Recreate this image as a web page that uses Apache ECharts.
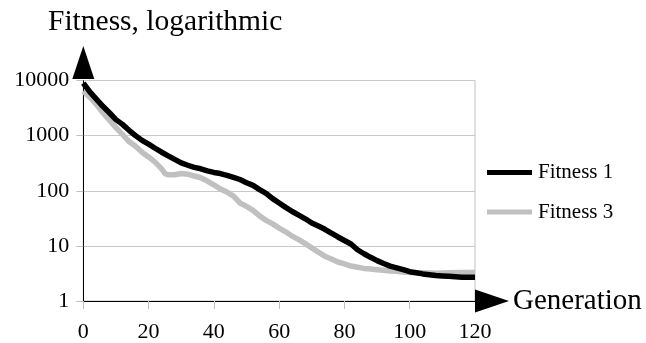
<!DOCTYPE html>
<html>
<head>
<meta charset="utf-8">
<script src="https://cdn.jsdelivr.net/npm/echarts@6/dist/echarts.min.js"></script>
<style>
html,body{margin:0;padding:0;background:#fff;}
#chart{width:646px;height:343px;}
</style>
</head>
<body>
<div id="chart"></div>
<script>
// Generations at which values were read
var gen1 = [0,2,4,6,8,10,12,14,16,18,20,22,24,26,28,30,32,34,36,38,40,42,44,46,48,50,52,54,56,58,60,62,64,66,68,70,72,74,76,78,80,82,84,86,88,90,92,94,96,98,100,102,104,106,108,110,112,114,116,118,120];
var fitness1 = [9000,6200,4600,3400,2600,1950,1600,1250,1000,820,700,590,500,430,370,320,290,265,250,230,215,205,190,175,160,140,125,105,90,72,60,50,42,36,31,26,23,20,17,14.5,12.5,10.8,8.5,7.2,6.2,5.4,4.8,4.3,4.0,3.7,3.4,3.25,3.1,3.0,2.9,2.85,2.8,2.75,2.7,2.7,2.7];
var gen3 = [0,2,4,6,8,10,12,14,16,18,20,22,24,25,26,28,30,32,34,36,38,40,42,44,46,48,50,52,54,56,58,60,62,64,66,68,70,72,74,76,78,80,82,84,86,88,90,92,94,96,98,100,104,108,112,116,120];
var fitness3 = [6400,5000,3700,2600,1900,1400,1050,780,640,500,410,330,250,205,195,195,205,200,185,172,150,128,108,95,80,60,52,44,35,29,25,21,18,15,13,11,9.2,7.7,6.5,5.8,5.1,4.7,4.3,4.1,3.9,3.8,3.7,3.6,3.5,3.45,3.35,3.3,3.25,3.2,3.25,3.3,3.3];
var xTicks = [0,20,40,60,80,100,120];
var yTicks = [1,10,100,1000,10000];
var seriesNames = ['Fitness 1','Fitness 3'];

function pairs(xs, ys){ return xs.map(function(x,i){ return [x, ys[i]]; }); }

var FONT = 'Liberation Serif';
var chart = echarts.init(document.getElementById('chart'), null, {renderer:'canvas'});
chart.setOption({
  backgroundColor:'#fff',
  animation:false,
  title:{
    text:'Fitness, logarithmic',
    left:48, top:7, padding:0,
    textStyle:{fontFamily:FONT, fontSize:29.5, fontWeight:'normal', color:'#000'}
  },
  legend:{
    orient:'vertical',
    left:487, top:162, padding:0,
    itemWidth:45, itemHeight:5, itemGap:18.5,
    icon:'rect',
    data:seriesNames,
    textStyle:{fontFamily:FONT, fontSize:21, color:'#000', padding:[0,0,0,1]}
  },
  grid:{
    left:83.3, right:171, top:80.5, bottom:38.5,
    show:true, borderColor:'#c0c0c0', borderWidth:1, backgroundColor:'transparent'
  },
  xAxis:{
    type:'value', min:xTicks[0], max:xTicks[xTicks.length-1], interval:xTicks[1]-xTicks[0],
    name:'Generation', nameLocation:'end', nameGap:38,
    nameTextStyle:{fontFamily:FONT, fontSize:29, color:'#000', verticalAlign:'middle'},
    axisLine:{show:true, lineStyle:{color:'#000', width:1}, symbol:['none','triangle'], symbolSize:[23,34], symbolOffset:[0,17]},
    axisTick:{show:true, length:8, lineStyle:{color:'#c0c0c0'}},
    axisLabel:{fontFamily:FONT, fontSize:22, color:'#000', margin:20},
    splitLine:{show:false}
  },
  yAxis:{
    type:'log', logBase:10, min:yTicks[0], max:yTicks[yTicks.length-1],
    axisLine:{show:true, lineStyle:{color:'#000', width:1}, symbol:['none','triangle'], symbolSize:[22,33], symbolOffset:[0,18]},
    axisTick:{show:true, length:7, lineStyle:{color:'#c0c0c0'}},
    axisLabel:{fontFamily:FONT, fontSize:22, color:'#000', margin:14,
      formatter:function(v){ return String(Math.round(v)); }},
    splitLine:{show:true, lineStyle:{color:'#c8c8c8', width:1}},
    minorTick:{show:false}
  },
  series:[
    {name:seriesNames[0], type:'line', data:pairs(gen1, fitness1), showSymbol:false, symbol:'none', z:3,
     lineStyle:{color:'#000', width:5.5}, itemStyle:{color:'#000'}},
    {name:seriesNames[1], type:'line', data:pairs(gen3, fitness3), showSymbol:false, symbol:'none', z:2,
     lineStyle:{color:'#c0c0c0', width:5.5}, itemStyle:{color:'#c0c0c0'}}
  ]
});
</script>
</body>
</html>
